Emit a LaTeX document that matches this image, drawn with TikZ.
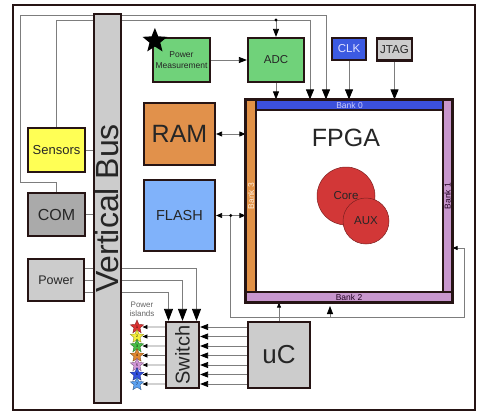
\documentclass[tikz,border=0pt]{standalone}
\usepackage{fontspec}
\setmainfont{Liberation Sans}
\usetikzlibrary{shapes.geometric,arrows.meta,calc,backgrounds}

\definecolor{edge}{RGB}{38,20,20}
\definecolor{wirecol}{RGB}{125,125,125}
\definecolor{pmgreen}{RGB}{112,210,122}
\definecolor{clkblue}{RGB}{60,90,225}
\definecolor{boxgray}{RGB}{204,204,204}
\definecolor{comgray}{RGB}{170,170,170}
\definecolor{ramorange}{RGB}{225,145,75}
\definecolor{flashblue}{RGB}{128,178,250}
\definecolor{sensyellow}{RGB}{255,255,85}
\definecolor{bankblue}{RGB}{60,80,220}
\definecolor{bankorange}{RGB}{225,145,70}
\definecolor{bankpurple}{RGB}{200,150,205}
\definecolor{corered}{RGB}{210,55,55}
\definecolor{isl1}{RGB}{220,50,50}
\definecolor{isl2}{RGB}{245,240,60}
\definecolor{isl3}{RGB}{70,190,70}
\definecolor{isl4}{RGB}{225,135,50}
\definecolor{isl5}{RGB}{210,150,215}
\definecolor{isl6}{RGB}{50,80,225}
\definecolor{isl7}{RGB}{90,160,240}

\newcommand{\fsz}[1]{\fontsize{#1}{#1}\selectfont}

\tikzset{
  box/.style={draw=edge, line width=2.2pt, inner sep=0pt, align=center, text=black!85},
  bank/.style={draw=edge, line width=1.2pt, inner sep=0pt, font=\fsz{8.5}},
  chip/.style={circle, draw=corered!60!black, line width=0.5pt, fill=corered, inner sep=0pt, font=\fsz{11.5}, text=black!85},
  island/.style={star, star points=5, star point ratio=2.2, minimum size=14pt, inner sep=0pt, line width=0.4pt, font=\fsz{3.5}},
  wire/.style={draw=wirecol, line width=0.8pt},
  smalltip/.style={-{Triangle[length=5pt,width=4pt,color=black]}},
  medtip/.style={-{Triangle[length=8pt,width=6pt,color=black]}},
  bigtip/.style={-{Triangle[length=10pt,width=8pt,color=black]}},
  hugetip/.style={-{Triangle[length=12pt,width=9pt,color=black]}},
  dbltip/.style={{Triangle[length=6pt,width=5pt,color=black]}-{Triangle[length=6pt,width=5pt,color=black]}}
}

\begin{document}
\begin{tikzpicture}[x=1pt,y=-1pt]
\useasboundingbox (0,0) rectangle (478,412);
\draw[edge, line width=2pt] (13,5) rectangle (475,410);

% left column
\node[box, fill=sensyellow, minimum width=57pt, minimum height=44pt, font=\fsz{13}] (sensors) at (56.5,150) {Sensors};
\node[box, fill=comgray, minimum width=57pt, minimum height=43pt, font=\fsz{16}] (com) at (56.5,214.5) {COM};
\node[box, fill=boxgray, minimum width=56pt, minimum height=42pt, font=\fsz{12.5}] (power) at (56,280) {Power};
\node[box, fill=boxgray, minimum width=27pt, minimum height=389pt, font=\fsz{32}] (bus) at (107.5,208.5) {\rotatebox{90}{Vertical Bus}};

% top row
\node[box, fill=pmgreen, minimum width=57pt, minimum height=44pt, font=\fsz{8.5}] (pm) at (181.5,60) {Power\\[2pt]Measurement};
\node[star, star points=5, star point ratio=2.3, fill=black, minimum size=26pt, inner sep=0pt] (pmstar) at ($(pm.north west)+(3,4)$) {};
\node[box, fill=pmgreen, minimum width=56pt, minimum height=44pt, font=\fsz{11.5}] (adc) at (276,60) {ADC};
\node[box, fill=clkblue, minimum width=34pt, minimum height=22pt, font=\fsz{11.5}, text=white!88!blue] (clk) at (349,49) {CLK};
\node[box, fill=boxgray, minimum width=35pt, minimum height=22pt, font=\fsz{11.5}] (jtag) at (394.5,49.5) {JTAG};

% memories
\node[box, fill=ramorange, minimum width=71pt, minimum height=62pt, font=\fsz{25}] (ram) at (179.5,134) {RAM};
\node[box, fill=flashblue, minimum width=71pt, minimum height=71pt, font=\fsz{14.5}] (flash) at (179.5,215.5) {FLASH};

% FPGA with its banks
\node[bank, fill=bankblue, minimum width=187pt, minimum height=10pt, text=white!80!blue] (bank0) at (349.5,105) {Bank 0};
\node[bank, fill=bankorange, minimum width=10pt, minimum height=192pt, text=white!85!orange] (bank3) at (251,196) {\rotatebox{90}{Bank 3}};
\node[bank, fill=bankpurple, minimum width=9pt, minimum height=192pt, text=black!75!violet] (bank1) at (447.5,196) {\rotatebox{90}{Bank 1}};
\node[bank, fill=bankpurple, minimum width=206pt, minimum height=10pt, text=black!75!violet] (bank2) at (349,297) {Bank 2};
\node[draw=edge, line width=2pt, fill=white, minimum width=187pt, minimum height=182pt, inner sep=0pt] (fpga) at (349.5,201) {};
\draw[edge, line width=2pt] (bank3.north west) rectangle (bank2.south east);
\node[font=\fsz{25}, text=black!85] (fpgatext) at (346,138) {FPGA};
\node[chip, minimum size=58pt] (core) at (346,196) {Core};
\node[chip, minimum size=46pt] (aux) at (366,221) {AUX};

% bottom row
\node[box, fill=boxgray, minimum width=33pt, minimum height=66pt, font=\fsz{20}] (switch) at (182.5,355) {\rotatebox{90}{Switch}};
\node[box, fill=boxgray, minimum width=62pt, minimum height=66pt, font=\fsz{26}] (uc) at (279,355) {uC};
\node[font=\fsz{8}, text=black!60, align=center] (islands) at (142,309) {Power\\[1pt]islands};
\foreach \col [count=\i] in {isl1,isl2,isl3,isl4,isl5,isl6,isl7}
  \node[island, fill=\col, draw=\col!60!black] (star\i) at (137,{317.5+9.5*\i}) {\i};

% junctions
\coordinate (sdot) at (adc.north |- 0,20);
\coordinate (stop) at (310,20);
\coordinate (ctop) at (326,15);
\coordinate (cleft) at (20,182);
\coordinate (fdot) at ($(flash.east)!0.5!(flash.east -| bank3.west)$);
\coordinate (fbot) at (464,317);
\coordinate (fret) at (464,248);
\coordinate (ftap) at (330,317);
\fill (sdot) circle (1.6);
\fill (fdot) circle (1.6);

\begin{pgfonlayer}{background}
\fill[white] (0,0) rectangle (478,412);
% lines to bank 0
\draw[wire] (sensors.north) |- (stop);
\draw[wire, bigtip] (stop) -- (stop |- bank0.north);
\draw[wire, medtip] (sdot) -- (adc.north);
\draw[wire, bigtip] (com.north) |- (cleft) |- (ctop) -- (ctop |- bank0.north);
\draw[wire, medtip] (pm.east) -- (adc.west);
\draw[wire, medtip] (adc.south) -- (adc.south |- bank0.north);
\draw[wire, bigtip] (clk.south) -- (clk.south |- bank0.north);
\draw[wire, bigtip] (jtag.south) -- (jtag.south |- bank0.north);
% bus links
\draw[wire] (sensors.east) -- (sensors.east -| bus.west);
\draw[wire] (com.east) -- (com.east -| bus.west);
\draw[wire, hugetip] ($(power.east)+(0,-12)$) -| ($(switch.north)+(14,0)$);
\draw[wire, hugetip] (power.east) -| (switch.north);
\draw[wire, hugetip] ($(power.east)+(0,12)$) -| ($(switch.north)+(-14,0)$);
% memories
\draw[wire, dbltip] (ram.east) -- (ram.east -| bank3.west);
\draw[wire, dbltip] (flash.east) -- (flash.east -| bank3.west);
\draw[wire, smalltip] (fdot) |- (fbot) -- (fret) -- (fret -| bank1.east);
\draw[wire, medtip] (ftap) -- ($(ftap)+(0,-11)$);
\draw[wire, smalltip] (uc.north) -- (uc.north |- bank2.south);
% power islands
\foreach \i in {1,...,7} {
  \draw[wire, smalltip, shorten >=1pt] (switch.west |- star\i) -- (star\i.east);
  \draw[wire, medtip] (uc.west |- star\i) -- (switch.east |- star\i);
}
\end{pgfonlayer}
\end{tikzpicture}
\end{document}
